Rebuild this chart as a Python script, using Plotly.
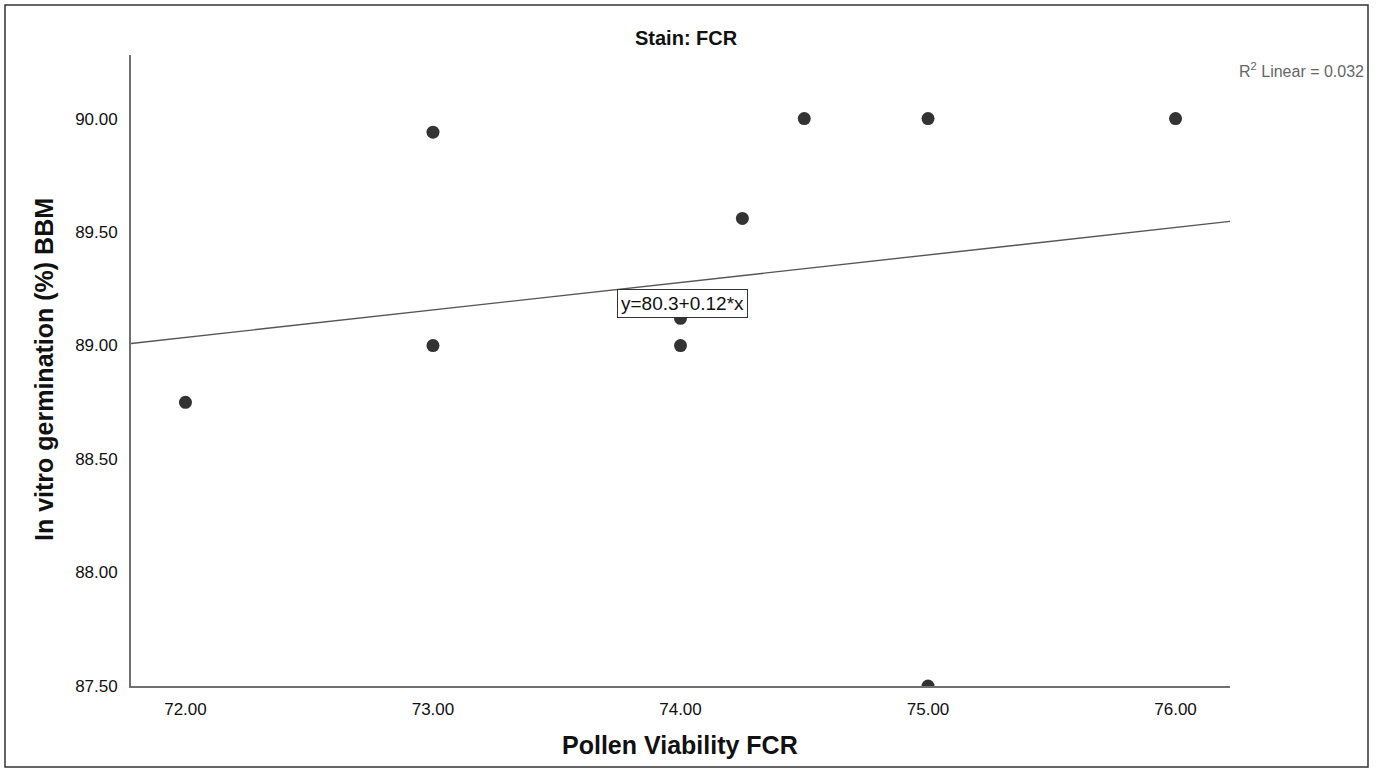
import numpy as np
import plotly.graph_objects as go

# Data
pollen_viability = [72.0, 73.0, 73.0, 74.0, 74.0, 74.25, 74.5, 75.0, 75.0, 76.0]
germination = [88.75, 89.94, 89.0, 89.0, 89.12, 89.56, 90.0, 90.0, 87.5, 90.0]
x_ticks = [72.0, 73.0, 74.0, 75.0, 76.0]
y_ticks = [87.5, 88.0, 88.5, 89.0, 89.5, 90.0]
fit_label = "y=80.3+0.12*x"
r2_label = "R<sup>2</sup> Linear = 0.032"

x_range = [71.78, 76.22]
y_range = [87.5, 90.28]

slope, intercept = np.polyfit(pollen_viability, germination, 1)
line_x = np.array(x_range)
line_y = intercept + slope * line_x

W, H = 1381, 774
L, T = 131, 55
PR, PB = 1230, 686
R, B = W - PR, H - PB
pw, ph = PR - L, PB - T

def px(xr):
    return (xr - L) / pw

def py(yr):
    return (PB - yr) / ph

FONT = "Liberation Sans, Arial"

fig = go.Figure()
fig.add_trace(go.Scatter(x=line_x, y=line_y, mode="lines",
                         line=dict(color="#555555", width=1.4),
                         hoverinfo="skip", showlegend=False))
fig.add_trace(go.Scatter(x=pollen_viability, y=germination, mode="markers",
                         marker=dict(color="#333333", size=13),
                         showlegend=False))

axis_common = dict(showgrid=False, zeroline=False, showline=True,
                   linecolor="#707070", linewidth=1.8, ticks="",
                   tickfont=dict(family=FONT, size=17, color="#111111"))

fig.update_xaxes(range=x_range, tickvals=x_ticks,
                 ticktext=[f"{v:.2f}" for v in x_ticks], ticklabelstandoff=7,
                 **axis_common)
fig.update_yaxes(range=y_range, tickvals=y_ticks,
                 ticktext=[f"{v:.2f}" for v in y_ticks], ticklabelstandoff=8,
                 **axis_common)

fig.add_annotation(x=px(680), y=py(745), xref="paper", yref="paper",
                   text="<b>Pollen Viability FCR</b>", showarrow=False,
                   xanchor="center", yanchor="middle",
                   font=dict(family=FONT, size=25, color="#111111"))
fig.add_annotation(x=px(44), y=py(370), xref="paper", yref="paper",
                   text="<b>In vitro germination (%) BBM</b>", showarrow=False,
                   textangle=-90, xanchor="center", yanchor="middle",
                   font=dict(family=FONT, size=25, color="#111111"))

fig.add_annotation(x=74.01, y=89.185, xref="x", yref="y", text=fit_label,
                   showarrow=False, bgcolor="white", bordercolor="#333333",
                   borderwidth=1, borderpad=3,
                   font=dict(family=FONT, size=19, color="#111111"))
fig.add_annotation(x=px(1366), y=py(70), xref="paper", yref="paper", text=r2_label,
                   showarrow=False, xanchor="right", yanchor="middle",
                   font=dict(family=FONT, size=16, color="#666666"))
fig.add_annotation(x=px(686), y=py(38), xref="paper", yref="paper", text="<b>Stain: FCR</b>",
                   showarrow=False, xanchor="center", yanchor="middle",
                   font=dict(family=FONT, size=20, color="#111111"))

fig.add_shape(type="rect", xref="paper", yref="paper",
              x0=px(5), x1=px(1368), y0=py(767), y1=py(5),
              line=dict(color="#333333", width=1.5), layer="below")

fig.update_layout(width=W, height=H, margin=dict(l=L, r=R, t=T, b=B),
                  plot_bgcolor="white", paper_bgcolor="white")

fig.write_html("out.html", config={"displayModeBar": False},
               post_script="document.body.style.margin='0';document.body.style.overflow='hidden';")
